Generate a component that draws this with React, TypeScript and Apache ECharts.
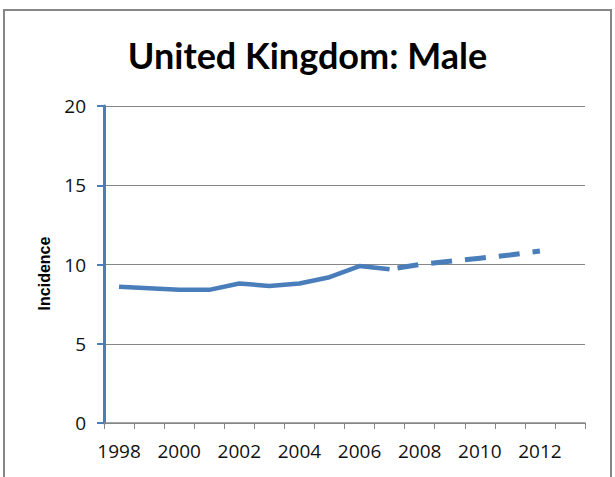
import React, { useEffect, useRef } from "react";
import * as echarts from "echarts";

const titleText = "United Kingdom: Male";
const yAxisName = "Incidence";
const years = ["1998","1999","2000","2001","2002","2003","2004","2005","2006","2007","2008","2009","2010","2011","2012","2013"];
const observed = [8.6, 8.5, 8.4, 8.4, 8.8, 8.65, 8.8, 9.2, 9.9, 9.7, null, null, null, null, null, null];
const projected = [null, null, null, null, null, null, null, null, null, 9.7, 10.0, 10.2, 10.4, 10.6, 10.85, null];
const yTicks = { min: 0, max: 20, interval: 5 };

const FONT = "'Open Sans', 'Noto Sans', sans-serif";
const BLUE = "#4a7ebb";
const GRAY = "#868686";

export default function App() {
  const ref = useRef<HTMLDivElement>(null);
  useEffect(() => {
    if (!ref.current) return;
    const chart = echarts.init(ref.current, null, { renderer: "svg" });
    chart.setOption({
      animation: false,
      backgroundColor: "#ffffff",
      title: {
        text: titleText,
        left: "center",
        top: 32,
        textStyle: { fontFamily: "Lato, sans-serif", fontWeight: "bold", fontSize: 36, color: "#000" },
      },
      graphic: [
        {
          type: "rect",
          shape: { x: 4, y: 10, width: 607, height: 500 },
          style: { fill: "none", stroke: GRAY, lineWidth: 2 },
          silent: true,
        },
      ],
      grid: { left: 104, right: 30, top: 106, bottom: 54, containLabel: false },
      xAxis: {
        type: "category",
        data: years,
        boundaryGap: true,
        axisLine: { show: true, lineStyle: { color: GRAY, width: 1.5 } },
        axisTick: { show: true, interval: 0, length: 6, lineStyle: { color: GRAY, width: 1 } },
        axisLabel: { interval: 1, margin: 18, fontFamily: FONT, fontSize: 19, color: "#111" },
        splitLine: { show: false },
      },
      yAxis: {
        type: "value",
        min: yTicks.min,
        max: yTicks.max,
        interval: yTicks.interval,
        name: yAxisName,
        nameLocation: "middle",
        nameGap: 52,
        nameRotate: 90,
        nameTextStyle: {
          fontFamily: "'Liberation Sans', Arial, sans-serif",
          fontWeight: "bold",
          fontSize: 16,
          color: "#000",
          padding: [0, 18, 0, 0],
        },
        axisLine: { show: true, lineStyle: { color: BLUE, width: 3 } },
        axisTick: { show: true, length: 7, lineStyle: { color: BLUE, width: 2 } },
        axisLabel: { margin: 18, fontFamily: FONT, fontSize: 19, color: "#111" },
        splitLine: { show: true, lineStyle: { color: GRAY, width: 1 } },
      },
      series: [
        {
          type: "line",
          data: observed,
          symbol: "none",
          connectNulls: false,
          lineStyle: { color: BLUE, width: 4.5 },
          z: 3,
        },
        {
          type: "line",
          data: projected,
          symbol: "none",
          connectNulls: false,
          lineStyle: { color: BLUE, width: 5, type: [21, 13], dashOffset: -8 },
          z: 3,
        },
      ],
    });
    return () => chart.dispose();
  }, []);
  return (
    <div
      ref={ref}
      style={{ position: "fixed", left: 0, top: 0, width: 615, height: 477, background: "#fff" }}
    />
  );
}
